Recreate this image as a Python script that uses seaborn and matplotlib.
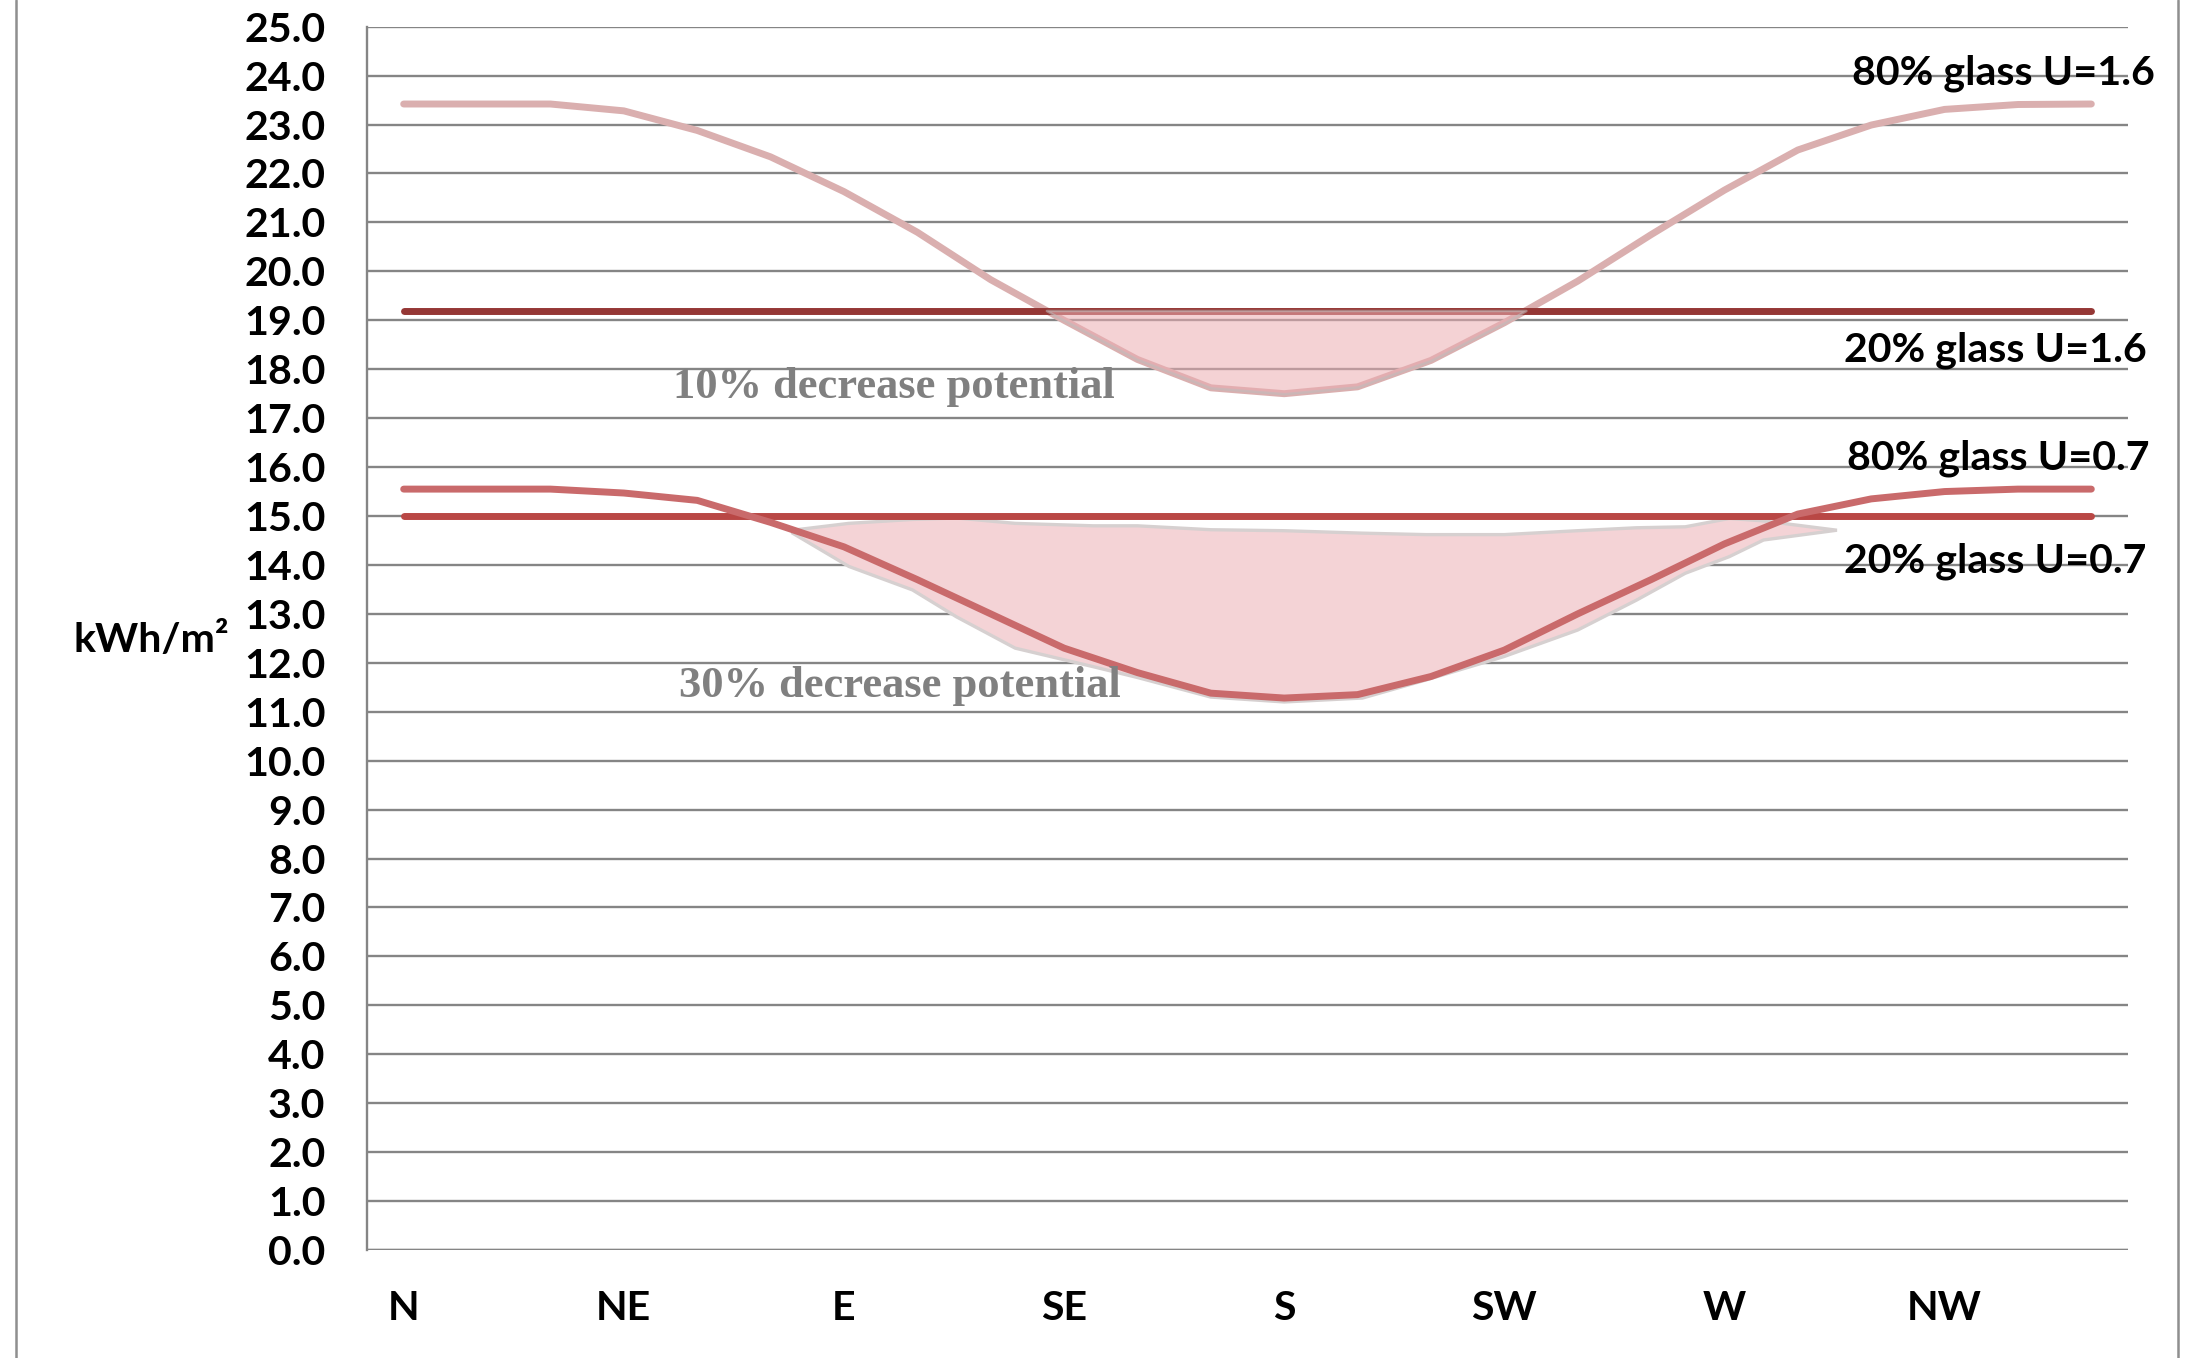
import numpy as np
import pandas as pd
import seaborn as sns
import matplotlib.pyplot as plt
from matplotlib.lines import Line2D

# Orientation of the facade (degrees from north) and heating demand per orientation
orientation = [0, 15, 30, 45, 60, 75, 90, 105, 120, 135, 150, 165,
               180, 195, 210, 225, 240, 255, 270, 285, 300, 315, 330, 345]
glass80_u16 = [23.42, 23.42, 23.42, 23.28, 22.88, 22.34, 21.63, 20.80, 19.83, 19.00, 18.20, 17.62,
               17.50, 17.64, 18.18, 18.95, 19.80, 20.75, 21.66, 22.48, 22.99, 23.31, 23.41, 23.42]
glass20_u16 = [19.2, 19.2, 19.2, 19.2, 19.2, 19.2, 19.2, 19.2, 19.2, 19.2, 19.2, 19.2,
               19.2, 19.2, 19.2, 19.2, 19.2, 19.2, 19.2, 19.2, 19.2, 19.2, 19.2, 19.2]
glass80_u07 = [15.55, 15.55, 15.55, 15.47, 15.32, 14.87, 14.37, 13.70, 13.00, 12.30, 11.80, 11.38,
               11.28, 11.35, 11.72, 12.26, 13.00, 13.70, 14.43, 15.04, 15.35, 15.50, 15.55, 15.55]
glass20_u07 = [15.0, 15.0, 15.0, 15.0, 15.0, 15.0, 15.0, 15.0, 15.0, 15.0, 15.0, 15.0,
               15.0, 15.0, 15.0, 15.0, 15.0, 15.0, 15.0, 15.0, 15.0, 15.0, 15.0, 15.0]

# Compass labels on the x axis
compass_pos = [0, 45, 90, 135, 180, 225, 270, 315]
compass_labels = ["N", "NE", "E", "SE", "S", "SW", "W", "NW"]

# Hand-drawn highlight of the lower saving potential (outline top / bottom)
band_deg = [79.5, 91, 104, 113, 125, 141, 150, 165, 180, 196, 209, 225, 240, 252, 262, 271, 278, 293]
band_top = [14.71, 14.85, 14.93, 14.96, 14.85, 14.80, 14.80, 14.72, 14.70, 14.65, 14.62, 14.62,
            14.70, 14.76, 14.78, 14.95, 14.90, 14.71]
band_bottom = [14.65, 13.97, 13.49, 12.94, 12.30, 11.92, 11.70, 11.30, 11.20, 11.28, 11.65, 12.13,
               12.67, 13.28, 13.83, 14.17, 14.51, 14.71]

series_labels = ["80% glass U=1.6", "20% glass U=1.6", "80% glass U=0.7", "20% glass U=0.7"]
series_label_xy = [(357.9, 24.05), (356.3, 18.39), (356.9, 16.18), (356.3, 14.08)]

df = pd.DataFrame({
    "orientation": orientation,
    "glass80_u16": glass80_u16,
    "glass20_u16": glass20_u16,
    "glass80_u07": glass80_u07,
    "glass20_u07": glass20_u07,
})

sns.set_theme(style="white")
plt.rcParams["font.family"] = ["Lato", "DejaVu Sans"]

fig = plt.figure(figsize=(11, 6.79), dpi=200)
ax = fig.add_axes([367 / 2200, 1 - 1250 / 1358, (2128 - 367) / 2200, (1250 - 26.7) / 1358])

grid_c = "#858585"
ax.set_xlim(-7.5, 352.5)
ax.set_ylim(0, 25)
ax.set_yticks(np.arange(0, 26, 1))
ax.set_yticklabels([f"{v:.1f}" for v in range(0, 26)])
ax.yaxis.grid(True, color=grid_c, linewidth=0.85)
ax.xaxis.grid(False)
ax.set_axisbelow(True)
for side in ["top", "right", "bottom"]:
    ax.spines[side].set_visible(False)
ax.spines["left"].set_color(grid_c)
ax.spines["left"].set_linewidth(0.85)
ax.axhline(0, color=grid_c, linewidth=1.2, zorder=1)

lw = 2.5
sns.lineplot(data=df, x="orientation", y="glass80_u16", color="#DAAFAF", linewidth=lw,
             solid_capstyle="round", ax=ax, zorder=3)
sns.lineplot(data=df, x="orientation", y="glass20_u16", color="#953735", linewidth=lw,
             solid_capstyle="round", ax=ax, zorder=3)

# Upper saving area: below the 20% line where the 80% glazing performs better
a = np.array(glass80_u16)
b = np.array(glass20_u16)
ax.fill_between(orientation, a, b, where=a < b, interpolate=True, color="#EBADB1",
                alpha=0.55, edgecolor="#BDBDBD", linewidth=0.9, zorder=4)

# Lower saving area (freehand outline)
ax.fill(band_deg + band_deg[::-1], band_top + band_bottom[::-1], facecolor="#F4D3D6",
        edgecolor="#D6D0D0", linewidth=1.2, zorder=2)

sns.lineplot(data=df, x="orientation", y="glass20_u07", color="#B94745", linewidth=lw,
             solid_capstyle="round", ax=ax, zorder=3)
sns.lineplot(data=df, x="orientation", y="glass80_u07", color="#C96A6B", linewidth=lw,
             solid_capstyle="round", ax=ax, zorder=5)

ax.set_xticks(compass_pos)
ax.set_xticklabels(compass_labels)
ax.set_xlabel("")
ax.set_ylabel("")
ax.tick_params(axis="both", length=0, labelsize=14.8, colors="black")
ax.tick_params(axis="y", pad=15)
ax.tick_params(axis="x", pad=14.5)
for lab in ax.get_xticklabels() + ax.get_yticklabels():
    lab.set_fontweight("bold")

for text, (x, y) in zip(series_labels, series_label_xy):
    ax.text(x, y, text, ha="right", va="center", fontsize=14.8, fontweight="bold",
            color="black", clip_on=False, zorder=6)

serif = ["Liberation Serif", "DejaVu Serif"]
ax.text(100.2, 17.64, "10% decrease potential", ha="center", va="center", fontsize=16,
        fontweight="bold", color="#808080", family=serif, zorder=6)
ax.text(101.5, 11.53, "30% decrease potential", ha="center", va="center", fontsize=16,
        fontweight="bold", color="#808080", family=serif, zorder=6)

fig.text(229 / 2200, 1 - 641 / 1358, "kWh/m²", ha="right", va="center", fontsize=14.8,
         fontweight="bold", color="black")

# Outer frame of the chart area
for xf in (16 / 2200, 2178 / 2200):
    fig.add_artist(Line2D([xf, xf], [0, 1], transform=fig.transFigure, color="#8F8F8F",
                          linewidth=0.9))

fig.savefig("out.png", dpi=200, facecolor="white")
